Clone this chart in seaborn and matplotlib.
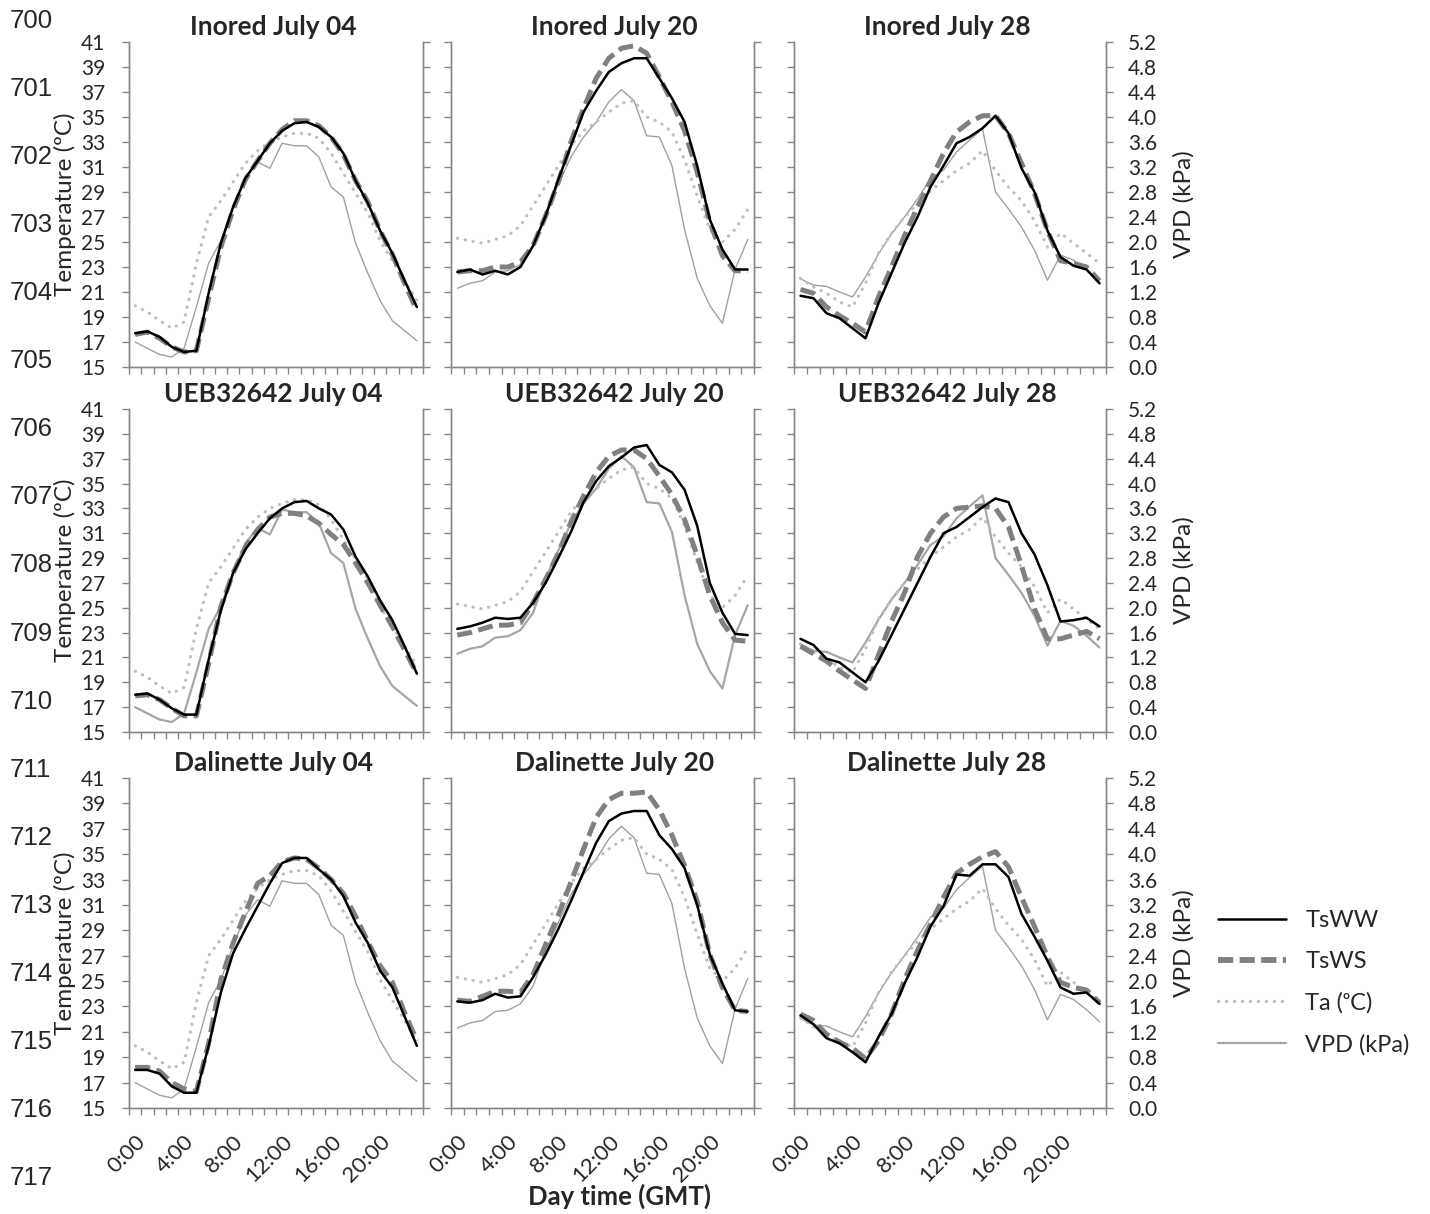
import numpy as np
import matplotlib
matplotlib.use("Agg")
import matplotlib.pyplot as plt
import seaborn as sns
from matplotlib.lines import Line2D

# hourly categories (0:00 ... 23:00)
hours = np.arange(24)
tick_hours = [0, 4, 8, 12, 16, 20]
tick_labels = ['0:00', '4:00', '8:00', '12:00', '16:00', '20:00']

cultivars = ['Inored', 'UEB32642', 'Dalinette']
dates = ['July 04', 'July 20', 'July 28']

# air temperature (ºC), same for every cultivar on a date
ta_jul04 = [19.9, 19.4, 18.7, 18.1, 18.6, 23.3, 27.0, 28.3, 29.8, 31.3, 32.3, 33.0,
            33.4, 33.7, 33.7, 33.3, 32.1, 30.5, 28.9, 27.3, 25.1, 23.5, 21.9, 20.3]
ta_jul20 = [25.3, 25.1, 24.9, 25.2, 25.5, 26.3, 27.9, 29.5, 31.1, 32.7, 33.9, 34.6,
            35.4, 36.1, 36.3, 35.0, 34.6, 33.8, 31.6, 28.7, 26.0, 25.0, 26.0, 27.6]
ta_jul28 = [22.1, 21.4, 20.9, 20.2, 19.8, 21.7, 24.1, 25.7, 27.0, 28.1, 29.1, 29.9,
            30.7, 31.3, 32.3, 30.7, 29.4, 28.3, 26.7, 24.6, 25.7, 24.9, 24.1, 23.3]

# vapour pressure deficit (kPa)
vpd_jul04 = [0.40, 0.30, 0.20, 0.16, 0.30, 0.96, 1.66, 2.02, 2.56, 3.04, 3.28, 3.18,
             3.58, 3.54, 3.54, 3.36, 2.88, 2.72, 1.98, 1.50, 1.06, 0.74, 0.58, 0.42]
vpd_jul20 = [1.26, 1.34, 1.38, 1.52, 1.54, 1.64, 1.92, 2.48, 2.92, 3.36, 3.68, 3.92,
             4.24, 4.44, 4.26, 3.70, 3.68, 3.22, 2.20, 1.42, 0.98, 0.70, 1.56, 2.04]
vpd_jul28 = [1.41, 1.31, 1.29, 1.20, 1.12, 1.44, 1.81, 2.13, 2.40, 2.69, 3.01, 3.15,
             3.44, 3.63, 3.81, 2.80, 2.53, 2.24, 1.87, 1.39, 1.79, 1.71, 1.55, 1.36]

# surface temperature, well watered (WW) and water stressed (WS)
inored_ww_jul04 = [17.7, 17.85, 17.4, 16.6, 16.2, 16.3, 20.9, 24.9, 27.8, 30.1, 31.5, 32.9,
                   33.9, 34.5, 34.6, 34.2, 33.4, 32.1, 29.9, 28.1, 25.9, 24.1, 21.9, 19.8]
inored_ww_jul20 = [22.6, 22.8, 22.4, 22.7, 22.4, 23.0, 24.7, 27.1, 30.0, 32.7, 35.4, 37.1,
                   38.6, 39.3, 39.7, 39.7, 38.1, 36.5, 34.6, 31.1, 26.8, 24.4, 22.8, 22.8]
inored_ww_jul28 = [20.7, 20.5, 19.3, 18.9, 18.1, 17.3, 20.1, 22.5, 24.9, 27.0, 29.4, 31.1,
                   32.9, 33.4, 34.1, 35.1, 33.7, 30.9, 29.0, 25.9, 23.8, 23.1, 22.8, 21.7]
inored_ws_jul04 = [17.6, 17.8, 17.3, 16.6, 16.2, 16.3, 20.5, 24.6, 27.6, 30.0, 31.5, 32.9,
                   34.0, 34.7, 34.7, 34.3, 33.4, 32.0, 29.9, 28.2, 25.9, 24.0, 21.7, 19.5]
inored_ws_jul20 = [22.6, 22.7, 22.7, 23.0, 23.0, 23.4, 24.7, 27.1, 29.8, 33.0, 35.7, 38.1,
                   39.7, 40.5, 40.7, 40.1, 38.2, 36.2, 33.9, 30.6, 26.6, 23.9, 22.7, 22.7]
inored_ws_jul28 = [21.2, 20.9, 19.8, 19.1, 18.5, 17.8, 20.6, 23.0, 25.5, 27.8, 29.9, 32.1,
                   33.8, 34.6, 35.1, 35.1, 33.7, 31.3, 28.9, 25.9, 23.5, 23.3, 23.0, 21.9]

ueb_ww_jul04 = [18.0, 18.1, 17.6, 16.9, 16.4, 16.4, 20.8, 24.8, 27.8, 29.7, 31.0, 32.2,
                33.0, 33.5, 33.6, 33.0, 32.5, 31.3, 29.1, 27.5, 25.6, 24.0, 21.9, 19.7]
ueb_ww_jul20 = [23.3, 23.5, 23.8, 24.2, 24.1, 24.2, 25.4, 27.0, 29.0, 31.1, 33.5, 35.2,
                36.4, 37.1, 37.9, 38.1, 36.5, 35.9, 34.5, 31.6, 27.0, 24.6, 22.9, 22.8]
ueb_ww_jul28 = [22.5, 22.0, 20.9, 20.6, 19.8, 19.0, 20.7, 22.8, 24.9, 27.0, 29.1, 31.0,
                31.5, 32.3, 33.1, 33.8, 33.5, 31.0, 29.3, 26.8, 23.9, 24.0, 24.2, 23.5]
ueb_ws_jul04 = [17.9, 18.0, 17.6, 16.9, 16.3, 16.3, 20.5, 25.1, 27.8, 29.9, 31.3, 32.3,
                32.6, 32.6, 32.4, 31.8, 30.9, 30.1, 28.6, 27.0, 25.2, 23.5, 21.6, 19.7]
ueb_ws_jul20 = [22.8, 23.0, 23.3, 23.6, 23.6, 23.8, 25.4, 27.3, 29.4, 31.9, 34.0, 35.9,
                37.2, 37.7, 37.7, 37.0, 35.6, 34.1, 32.1, 29.2, 26.0, 23.8, 22.4, 22.3]
ueb_ws_jul28 = [21.9, 21.3, 20.7, 19.9, 19.2, 18.5, 21.2, 23.9, 26.2, 29.1, 31.0, 32.3,
                33.0, 33.1, 33.2, 33.0, 31.5, 28.4, 24.9, 22.5, 22.5, 22.8, 23.1, 22.5]

dal_ww_jul04 = [18.0, 18.0, 17.7, 16.7, 16.2, 16.2, 19.9, 24.1, 27.2, 29.1, 30.9, 32.7,
                34.3, 34.7, 34.7, 33.8, 33.0, 31.7, 29.6, 28.0, 25.8, 24.5, 22.2, 19.9]
dal_ww_jul20 = [23.4, 23.3, 23.5, 24.0, 23.7, 23.8, 25.3, 27.1, 29.1, 31.3, 33.6, 35.9,
                37.6, 38.2, 38.4, 38.4, 36.5, 35.4, 33.9, 31.0, 27.1, 24.8, 22.7, 22.6]
dal_ww_jul28 = [22.3, 21.6, 20.5, 20.1, 19.4, 18.6, 20.6, 22.4, 24.8, 26.9, 29.3, 30.9,
                33.4, 33.3, 34.2, 34.2, 33.2, 30.3, 28.5, 26.6, 24.5, 24.0, 24.1, 23.2]
dal_ws_jul04 = [18.2, 18.2, 17.9, 17.0, 16.5, 16.3, 20.1, 25.1, 28.0, 30.4, 32.7, 33.3,
                34.4, 34.7, 34.6, 33.9, 33.0, 31.9, 30.1, 28.1, 26.2, 24.9, 22.5, 20.3]
dal_ws_jul20 = [23.5, 23.4, 23.8, 24.2, 24.2, 24.1, 25.5, 27.9, 30.2, 32.8, 35.4, 37.9,
                39.3, 39.8, 39.8, 39.9, 38.5, 36.5, 34.1, 31.3, 27.1, 24.5, 22.7, 22.6]
dal_ws_jul28 = [22.4, 21.9, 20.8, 20.2, 19.7, 18.9, 20.3, 22.4, 25.1, 27.4, 29.5, 31.6,
                33.5, 34.2, 34.8, 35.2, 34.0, 31.6, 29.3, 26.9, 24.9, 24.5, 24.3, 23.3]

ta_by_date = [ta_jul04, ta_jul20, ta_jul28]
vpd_by_date = [vpd_jul04, vpd_jul20, vpd_jul28]
ww = [[inored_ww_jul04, inored_ww_jul20, inored_ww_jul28],
      [ueb_ww_jul04, ueb_ww_jul20, ueb_ww_jul28],
      [dal_ww_jul04, dal_ww_jul20, dal_ww_jul28]]
ws = [[inored_ws_jul04, inored_ws_jul20, inored_ws_jul28],
      [ueb_ws_jul04, ueb_ws_jul20, ueb_ws_jul28],
      [dal_ws_jul04, dal_ws_jul20, dal_ws_jul28]]

sns.set_theme(style="white")
plt.rcParams['font.family'] = ['Lato', 'DejaVu Sans']

W, H = 1430, 1214
fig = plt.figure(figsize=(W / 100, H / 100), dpi=100)

# panel edges in pixels
col_px = [(129, 423), (451, 754), (794, 1106)]
row_px = [(42, 367), (409, 732), (778, 1108)]
title_x = [0.49, 0.54, 0.49]

spine_col = '#868686'
c_ww, c_ws, c_ta, c_vpd = '#000000', '#808080', '#bfbfbf', '#a0a0a0'
ws_dash = (0, (3.0, 1.3))
ta_dot = (0, (0.1, 2.4))

x = hours + 0.5  # centre of each hourly category

for r, (top, bot) in enumerate(row_px):
    for c, (left, right) in enumerate(col_px):
        ax = fig.add_axes([left / W, 1 - bot / H, (right - left) / W, (bot - top) / H])
        ax2 = ax.twinx()
        vpd_lw = 1.6 if r == 1 else 1.0
        vpd_c = '#a6a6a6' if r == 1 else c_vpd
        sns.lineplot(x=x, y=vpd_by_date[c], ax=ax2, color=vpd_c, lw=vpd_lw, estimator=None)
        sns.lineplot(x=x, y=ta_by_date[c], ax=ax, color=c_ta, lw=2.3,
                     linestyle=ta_dot, dash_capstyle='round', estimator=None)
        sns.lineplot(x=x, y=ws[r][c], ax=ax, color=c_ws, lw=3.6,
                     linestyle=ws_dash, estimator=None)
        sns.lineplot(x=x, y=ww[r][c], ax=ax, color=c_ww, lw=1.8, estimator=None)
        ax.set_zorder(ax2.get_zorder() + 1)
        ax.patch.set_visible(False)

        ax.set_xlim(0, 24)
        ax.set_ylim(15, 41)
        ax2.set_ylim(0, 5.2)
        ax.set_yticks(np.arange(15, 42, 2))
        ax2.set_yticks(np.round(np.arange(0, 5.21, 0.4), 1))
        ax.set_xticks(np.arange(0, 25))
        ax.set_xticklabels([])
        ax.set_xticks([h + 0.5 for h in tick_hours], minor=True)
        if r == 2:
            ax.set_xticklabels(tick_labels, minor=True, rotation=45, ha='right',
                               va='top', rotation_mode='anchor', fontsize=16)
        else:
            ax.set_xticklabels([], minor=True)
        ax.tick_params(axis='x', which='major', length=5, width=1, color=spine_col,
                       direction='out', bottom=True)
        ax.tick_params(axis='x', which='minor', length=0, pad=17, bottom=True)
        ax.tick_params(axis='y', length=5, width=1, color=spine_col, direction='out',
                       left=True, labelsize=15, pad=12, labelleft=(c == 0))
        ax2.tick_params(axis='y', length=5, width=1, color=spine_col, direction='out',
                        right=True, labelsize=15, pad=11, labelright=(c == 2))
        for a in (ax, ax2):
            a.spines['top'].set_visible(False)
            for s in ('left', 'right', 'bottom'):
                a.spines[s].set_color(spine_col)
                a.spines[s].set_linewidth(1.0)
            a.set_xlabel('')
            a.set_ylabel('')
        if c == 0:
            ax.set_ylabel('Temperature (ºC)', fontsize=17.5)
            ax.yaxis.set_label_coords(-0.18, 0.5)
        if c == 2:
            ax2.set_ylabel('VPD (kPa)', fontsize=17.5)
            ax2.yaxis.set_label_coords(1.215, 0.5)
        ax.set_title(f'{cultivars[r]} {dates[c]}', fontsize=19, fontweight='bold',
                     x=title_x[c], pad=5)

fig.text(620 / W, 1 - 1196 / H, 'Day time (GMT)', fontsize=18.5, fontweight='bold',
         ha='center', va='center')

# manuscript line numbers
for k in range(18):
    fig.text(10 / W, 1 - (21 + 68.06 * k) / H, str(700 + k), fontsize=18.5,
             family='Liberation Sans', ha='left', va='center')

handles = [Line2D([], [], color=c_ww, lw=1.8),
           Line2D([], [], color=c_ws, lw=4.2, linestyle=(0, (2.6, 1.1))),
           Line2D([], [], color=c_ta, lw=2.3, linestyle=ta_dot, dash_capstyle='round'),
           Line2D([], [], color='#a6a6a6', lw=1.6)]
labels = ['TsWW', 'TsWS', 'Ta (ᵒC)', 'VPD (kPa)']
fig.legend(handles, labels, loc='upper left', bbox_to_anchor=(1218 / W, 1 - 910 / H),
           frameon=False, fontsize=17, handlelength=2.9, handletextpad=0.8,
           labelspacing=0.85, borderaxespad=0, borderpad=0)

fig.savefig('out.png', dpi=100)
